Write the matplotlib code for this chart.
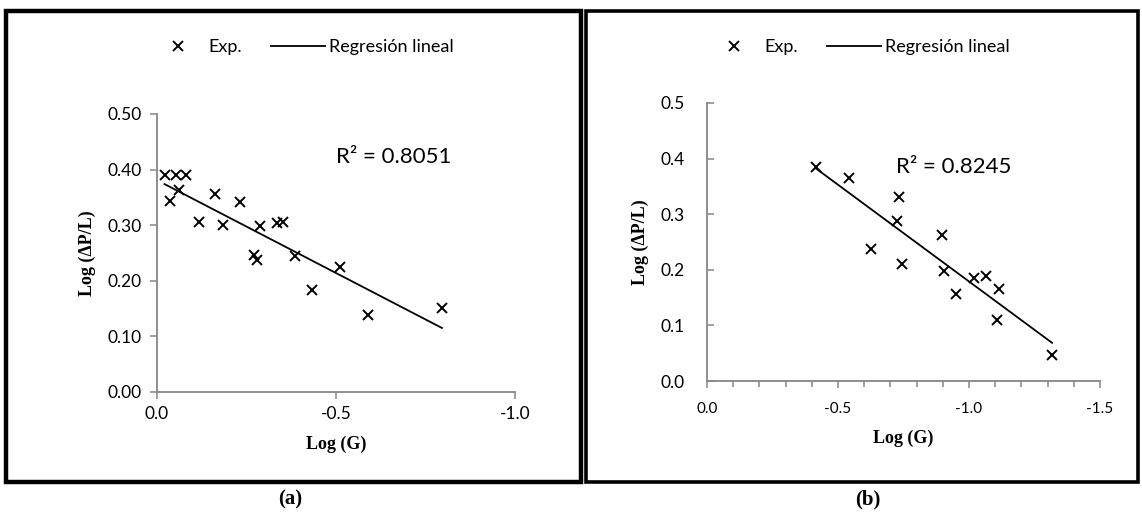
import numpy as np
import matplotlib
matplotlib.use('Agg')
import matplotlib.pyplot as plt
from matplotlib.patches import Rectangle
from matplotlib.lines import Line2D
from matplotlib.ticker import MultipleLocator, FormatStrFormatter

plt.rcParams['font.family'] = ['Lato', 'DejaVu Sans']
plt.rcParams['axes.unicode_minus'] = False

# (a) experimental points
logG_a  = [-0.021, -0.052, -0.082, -0.037, -0.061, -0.161, -0.231, -0.118, -0.183, -0.287,
           -0.335, -0.352, -0.270, -0.279, -0.386, -0.512, -0.433, -0.589, -0.796]
logdP_a = [0.390, 0.390, 0.390, 0.343, 0.364, 0.356, 0.342, 0.305, 0.300, 0.298,
           0.304, 0.305, 0.246, 0.237, 0.244, 0.225, 0.183, 0.138, 0.151]
fit_a = [0.381, 0.334]     # intercept, slope
r2_a = 0.8051

# (b) experimental points
logG_b  = [-0.415, -0.542, -0.625, -0.724, -0.733, -0.743, -0.898, -0.906, -0.949, -1.020,
           -1.064, -1.115, -1.108, -1.317]
logdP_b = [0.384, 0.366, 0.237, 0.287, 0.331, 0.210, 0.263, 0.198, 0.156, 0.185,
           0.189, 0.165, 0.110, 0.047]
fit_b = [0.527, 0.348]
r2_b = 0.8245

W, H = 1142, 515
fig = plt.figure(figsize=(W/100, H/100), dpi=100)

def px_axes(x0, x1, y_top, y_bot):
    return fig.add_axes([x0/W, 1 - y_bot/H, (x1 - x0)/W, (y_bot - y_top)/H])

axa = px_axes(157, 515, 114, 392)
axb = px_axes(707, 1100, 103, 381)

grey = '#868686'
serif = ['Liberation Serif', 'DejaVu Serif']

def draw(ax, x, y, fit):
    ax.plot(x, y, 'x', color='black', ms=7.5, mew=1.4, clip_on=False)
    xf = np.array([min(x, key=abs), max(x, key=abs)])
    ax.plot(xf, fit[0] + fit[1]*xf, color='black', lw=1.3)
    for s in ['top', 'right']:
        ax.spines[s].set_visible(False)
    for s in ['left', 'bottom']:
        ax.spines[s].set_color(grey)
        ax.spines[s].set_linewidth(1.3)
    ax.set_ylim(0, 0.5)
    ax.yaxis.set_major_locator(MultipleLocator(0.1))
    ax.xaxis.set_major_locator(MultipleLocator(0.5))
    ax.set_xlabel('Log (G)', family=serif, fontweight='bold', fontsize=13, labelpad=10)
    ax.set_ylabel('Log (\u0394P/L)', family=serif, fontweight='bold', fontsize=13, labelpad=8)
    ax.tick_params(colors=grey, labelcolor='black', width=1.1, length=5)

draw(axa, logG_a, logdP_a, fit_a)
axa.set_xlim(0, -1.0)
axa.yaxis.set_major_formatter(FormatStrFormatter('%.2f'))
axa.xaxis.set_major_formatter(FormatStrFormatter('%.1f'))
axa.tick_params(labelsize=12.5)
axa.tick_params(axis='y', pad=6)
axa.tick_params(axis='x', pad=5)
axa.text(0.50, 0.845, 'R\u00b2 = %.4f' % r2_a, transform=axa.transAxes, fontsize=16, va='center')

draw(axb, logG_b, logdP_b, fit_b)
axb.set_xlim(0, -1.5)
axb.yaxis.set_major_formatter(FormatStrFormatter('%.1f'))
axb.xaxis.set_major_formatter(FormatStrFormatter('%.1f'))
axb.xaxis.set_minor_locator(MultipleLocator(0.1))
axb.tick_params(axis='y', direction='in', labelsize=12.5, pad=16)
axb.tick_params(axis='x', which='both', labelsize=11, pad=10)
axb.tick_params(axis='x', which='minor', colors=grey, width=1.1, length=4)
axb.text(0.48, 0.77, 'R\u00b2 = %.4f' % r2_b, transform=axb.transAxes, fontsize=16, va='center')

# legends above each panel
handles = [Line2D([], [], ls='none', marker='x', color='black', ms=7.5, mew=1.4),
           Line2D([], [], color='black', lw=1.3)]
labels = ['Exp.', 'Regresi\u00f3n lineal']
for cx in [302/W, 858/W]:
    fig.legend(handles, labels, loc='center', bbox_to_anchor=(cx, 1 - 47/H), ncol=2,
               frameon=False, fontsize=13, handlelength=3.0, handletextpad=0.2,
               columnspacing=1.6)

# panel frames
fig.patches.append(Rectangle((6/W, 1 - 482/H), (581 - 6)/W, (482 - 11)/H, transform=fig.transFigure,
                             fill=False, ec='black', lw=3.2))
fig.patches.append(Rectangle((586/W, 1 - 482/H), (1138 - 586)/W, (482 - 11)/H, transform=fig.transFigure,
                             fill=False, ec='black', lw=2.6))

fig.text(290/W, 1 - 499/H, '(a)', family=serif, fontweight='bold', fontsize=15, ha='center', va='center')
fig.text(868/W, 1 - 499/H, '(b)', family=serif, fontweight='bold', fontsize=15, ha='center', va='center')

fig.savefig('out.png', dpi=100)
